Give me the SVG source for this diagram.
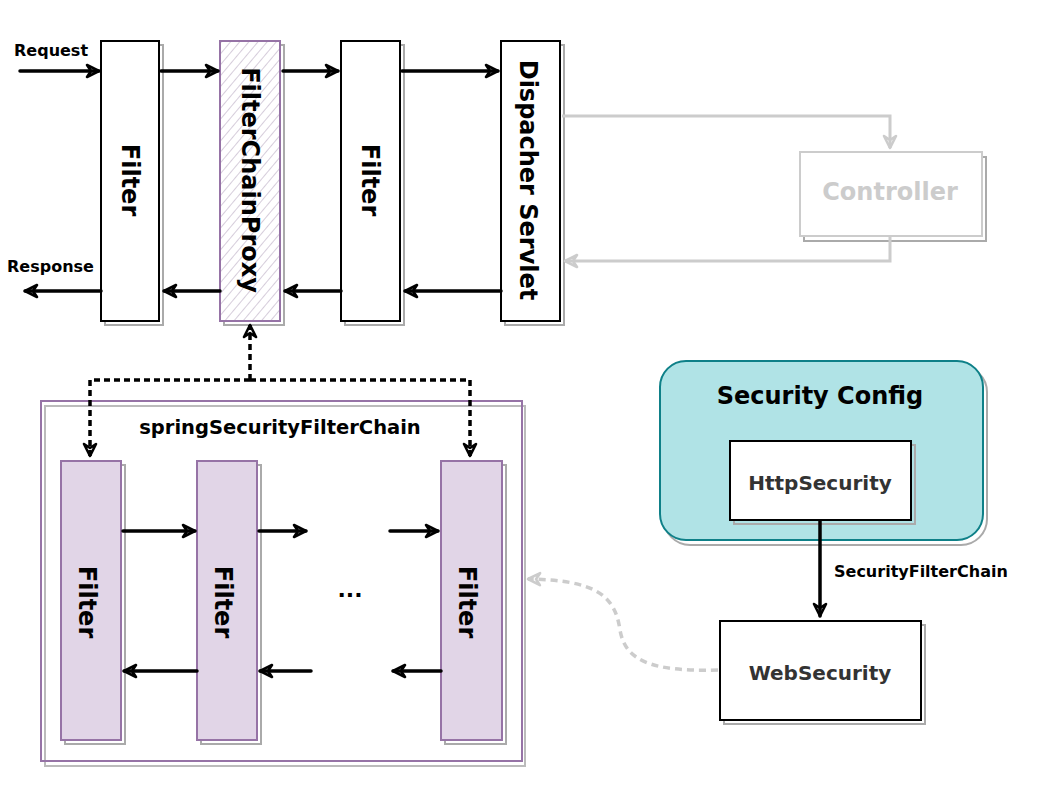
<svg xmlns="http://www.w3.org/2000/svg" width="1040" height="800" viewBox="0 0 1040 800">
<style>
  text { font-family: "DejaVu Sans", Verdana, sans-serif; font-weight: bold; }
  .box { fill: #fff; stroke: #000; stroke-width: 2; }
  .shadow { fill: none; stroke: #aaa; stroke-width: 2; }
  .purple { fill: #e1d5e7; stroke: #9673a6; stroke-width: 2; }
  .conn { fill: none; stroke: #000; stroke-width: 3.5; stroke-linecap: round; }
  .gray { fill: none; stroke: #ccc; stroke-width: 3; }
  .dash { fill: none; stroke: #000; stroke-width: 3.5; stroke-dasharray: 6 4; }
  .gdash { fill: none; stroke: #ccc; stroke-width: 3.5; stroke-dasharray: 7 5; }
  .vt { font-size: 24px; text-anchor: middle; dominant-baseline: central; }
</style>
<defs>
  <marker id="ab" viewBox="0 0 16 16" refX="14" refY="8" markerWidth="16" markerHeight="16" markerUnits="userSpaceOnUse" orient="auto">
    <path d="M2,2 L14,8 L2,14 L6,8 Z" fill="none" stroke="#000" stroke-width="2.6" stroke-linejoin="round"/>
  </marker>
  <marker id="ag" viewBox="0 0 16 16" refX="14" refY="8" markerWidth="16" markerHeight="16" markerUnits="userSpaceOnUse" orient="auto">
    <path d="M2,2 L14,8 L2,14 L6,8 Z" fill="none" stroke="#ccc" stroke-width="2.6" stroke-linejoin="round"/>
  </marker>
  <pattern id="hatch" width="7" height="7" patternUnits="userSpaceOnUse" patternTransform="rotate(40)">
    <line x1="0" y1="0" x2="0" y2="7" stroke="#bfb2c8" stroke-width="1.3"/>
  </pattern>
</defs>
<rect width="1040" height="800" fill="#fff"/>

<g id="labels">
  <text x="14" y="56" font-size="16">Request</text>
  <text x="7" y="272" font-size="16">Response</text>
</g>

<g id="filter1">
  <rect class="shadow" x="105" y="45" width="58" height="280"/>
  <rect class="box" x="101" y="41" width="58" height="280"/>
  <text class="vt" transform="translate(130,180) rotate(90)">Filter</text>
</g>
<g id="filterChainProxy">
  <rect class="shadow" x="224" y="45" width="60" height="280"/>
  <rect x="220" y="41" width="60" height="280" fill="#fff"/>
  <rect x="220" y="41" width="60" height="280" fill="url(#hatch)" stroke="#9673a6" stroke-width="2"/>
  <text class="vt" transform="translate(250,180) rotate(90)">FilterChainProxy</text>
</g>
<g id="filter2">
  <rect class="shadow" x="345" y="45" width="59" height="280"/>
  <rect class="box" x="341" y="41" width="59" height="280"/>
  <text class="vt" transform="translate(370,180) rotate(90)">Filter</text>
</g>
<g id="dispatcherServlet">
  <rect class="shadow" x="505" y="45" width="59" height="280"/>
  <rect class="box" x="501" y="41" width="59" height="280"/>
  <text class="vt" transform="translate(528,180) rotate(90)">Dispacher Servlet</text>
</g>
<g id="controller">
  <rect x="804" y="157" width="182" height="84" fill="none" stroke="#aaa" stroke-width="2"/>
  <rect x="800" y="152" width="182" height="84" fill="#fff" stroke="#ccc" stroke-width="2"/>
  <text x="890" y="200" font-size="24" fill="#ccc" text-anchor="middle">Controller</text>
</g>

<g id="springSecurityFilterChain">
  <rect x="45" y="406" width="480" height="360" fill="none" stroke="#bbb" stroke-width="2"/>
  <rect x="41" y="401" width="481" height="360" fill="none" stroke="#9673a6" stroke-width="2"/>
  <text x="280" y="434" font-size="19.5" text-anchor="middle">springSecurityFilterChain</text>
</g>
<g id="sfilter1">
  <rect class="shadow" x="65" y="465" width="60" height="279"/>
  <rect class="purple" x="61" y="461" width="60" height="279"/>
  <text class="vt" transform="translate(87,602) rotate(90)">Filter</text>
</g>
<g id="sfilter2">
  <rect class="shadow" x="201" y="465" width="60" height="279"/>
  <rect class="purple" x="197" y="461" width="60" height="279"/>
  <text class="vt" transform="translate(223,602) rotate(90)">Filter</text>
</g>
<g id="ellipsis">
  <text x="350" y="597" font-size="22" text-anchor="middle">...</text>
</g>
<g id="sfilter3">
  <rect class="shadow" x="445" y="465" width="61" height="279"/>
  <rect class="purple" x="441" y="461" width="61" height="279"/>
  <text class="vt" transform="translate(467,602) rotate(90)">Filter</text>
</g>

<g id="securityConfig">
  <rect x="664" y="366" width="323" height="179" rx="26" fill="none" stroke="#aaa" stroke-width="2"/>
  <rect x="660" y="361" width="323" height="179" rx="26" fill="#b0e3e6" stroke="#0e8088" stroke-width="2"/>
  <text x="820" y="404" font-size="24" text-anchor="middle">Security Config</text>
</g>
<g id="httpSecurity">
  <rect class="shadow" x="734" y="445" width="181" height="79"/>
  <rect class="box" x="730" y="441" width="181" height="79"/>
  <text x="820" y="490" font-size="20" fill="#333" text-anchor="middle">HttpSecurity</text>
</g>
<g id="webSecurity">
  <rect class="shadow" x="724" y="625" width="201" height="99"/>
  <rect class="box" x="720" y="621" width="201" height="99"/>
  <text x="820" y="680" font-size="20" fill="#333" text-anchor="middle">WebSecurity</text>
</g>

<g id="connectors">
  <path class="conn" d="M20,71 L99,71" marker-end="url(#ab)"/>
  <path class="conn" d="M161,71 L218,71" marker-end="url(#ab)"/>
  <path class="conn" d="M283,71 L338,71" marker-end="url(#ab)"/>
  <path class="conn" d="M402,71 L498,71" marker-end="url(#ab)"/>
  <path class="conn" d="M501,291 L405,291" marker-end="url(#ab)"/>
  <path class="conn" d="M341,291 L285,291" marker-end="url(#ab)"/>
  <path class="conn" d="M220,291 L164,291" marker-end="url(#ab)"/>
  <path class="conn" d="M101,291 L25,291" marker-end="url(#ab)"/>

  <path class="gray" d="M562,116 L890,116 L890,148" marker-end="url(#ag)"/>
  <path class="gray" d="M890,237 L890,261 L565,261" marker-end="url(#ag)"/>

  <path class="dash" d="M250,380 L250,325" marker-end="url(#ab)"/>
  <path class="dash" d="M250,380 L90,380 L90,456" marker-end="url(#ab)"/>
  <path class="dash" d="M250,380 L470,380 L470,456" marker-end="url(#ab)"/>

  <path class="conn" d="M123,531 L195,531" marker-end="url(#ab)"/>
  <path class="conn" d="M259,531 L306,531" marker-end="url(#ab)"/>
  <path class="conn" d="M390,531 L438,531" marker-end="url(#ab)"/>
  <path class="conn" d="M197,671 L124,671" marker-end="url(#ab)"/>
  <path class="conn" d="M311,671 L260,671" marker-end="url(#ab)"/>
  <path class="conn" d="M441,671 L393,671" marker-end="url(#ab)"/>

  <path class="conn" d="M820,521 L820,616" marker-end="url(#ab)"/>
  <text x="834" y="577" font-size="16">SecurityFilterChain</text>

  <path class="gdash" d="M718,670 C650,672 625,660 620,630 C615,595 595,580 528,579" marker-end="url(#ag)"/>
</g>
</svg>
